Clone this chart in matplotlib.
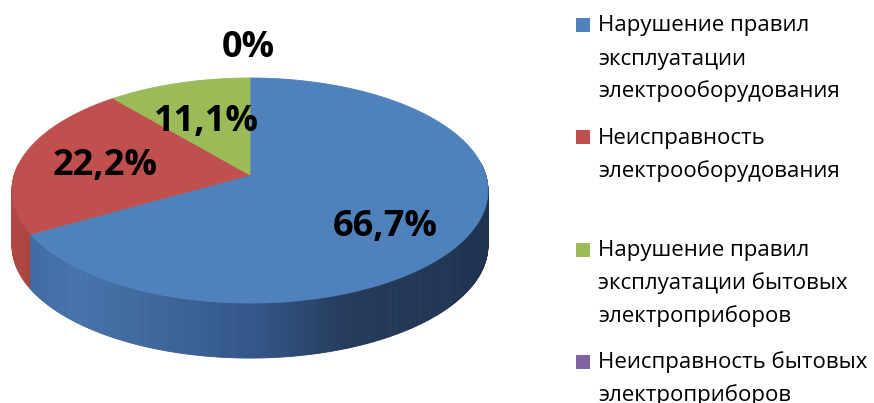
import numpy as np
import matplotlib
matplotlib.use("Agg")
import matplotlib.pyplot as plt
from matplotlib.patches import Polygon, Rectangle
from matplotlib.colors import to_rgb

# ---- data ----
categories = [
    "Нарушение правил\nэксплуатации\nэлектрооборудования",
    "Неисправность\nэлектрооборудования",
    "Нарушение правил\nэксплуатации бытовых\nэлектроприборов",
    "Неисправность бытовых\nэлектроприборов",
]
values = [66.7, 22.2, 11.1, 0.0]
top_colors = ["#4F81BD", "#C0504D", "#9BBB59", "#8064A2"]

def fmt(v):
    return "0%" if v == 0 else f"{v:.1f}".replace(".", ",") + "%"

# ---- geometry (pixel space) ----
W, H = 874, 403
fig = plt.figure(figsize=(W / 100, H / 100), dpi=100)
ax = fig.add_axes([0, 0, 1, 1])
ax.set_xlim(0, W)
ax.set_ylim(H, 0)
ax.axis("off")

cx, cy = 250.0, 175.0
k = 0.138
A, B = 235.7, 110.4
depth = 55.0

def proj(theta):
    # theta: clockwise angle from 12 o'clock, degrees
    t = np.radians(theta)
    x, y = np.sin(t), np.cos(t)
    s = 1 + k * y
    return cx + A * x / s, cy - B * y / s

def side_color(i, X):
    if i == 0:
        xs = [0, 30, 80, 250, 350, 500]
        cols = ["#3F6CA3", "#3F6CA3", "#4673AA", "#34578A", "#243B5A", "#1F334F"]
    elif i == 1:
        xs = [0, 15, 40, 500]
        cols = ["#B34A46", "#B04844", "#A5433F", "#A5433F"]
    elif i == 2:
        xs = [0, 500]
        cols = ["#7E9A48", "#7E9A48"]
    else:
        xs = [0, 500]
        cols = ["#66508A", "#66508A"]
    rgb = np.array([to_rgb(c) for c in cols])
    return tuple(np.interp(X, xs, rgb[:, j]) for j in range(3))

total = sum(values)
starts = np.cumsum([0] + values[:-1]) / total * 360
ends = np.cumsum(values) / total * 360

# side quads
quads = []
for i, (a0, a1) in enumerate(zip(starts, ends)):
    if a1 - a0 <= 0:
        continue
    n = max(2, int((a1 - a0) / 0.5))
    th = np.linspace(a0, a1, n + 1)
    for j in range(n):
        ta, tb = th[j], th[j + 1]
        tm = 0.5 * (ta + tb)
        if np.cos(np.radians(tm)) > 0.1:
            continue
        xa, ya = proj(ta)
        xb, yb = proj(tb)
        quads.append((np.cos(np.radians(tm)), i,
                      [(xa, ya), (xb, yb), (xb, yb + depth), (xa, ya + depth)]))
quads.sort(key=lambda q: -q[0])
for _, i, pts in quads:
    X = np.mean([p[0] for p in pts])
    c = side_color(i, X)
    ax.add_patch(Polygon(pts, closed=True, facecolor=c, edgecolor=c, lw=0.6))

# top faces
for i, (a0, a1) in enumerate(zip(starts, ends)):
    if a1 - a0 <= 0:
        continue
    th = np.linspace(a0, a1, 200)
    pts = [(cx, cy)] + [proj(t) for t in th]
    ax.add_patch(Polygon(pts, closed=True, facecolor=top_colors[i],
                         edgecolor=top_colors[i], lw=0.6))

# data labels
label_pos = [(385, 227), (105, 166), (206, 122), (248, 48)]
for v, (lx, ly) in zip(values, label_pos):
    ax.text(lx, ly, fmt(v), ha="center", va="center", fontsize=26,
            fontweight="bold", family="Open Sans", color="black")

# legend
sq_x, sq_size = 576, 14
first_base = 31.5
slot = 112.3
line_h = 33
for i, lab in enumerate(categories):
    base = first_base + slot * i
    ax.add_patch(Rectangle((sq_x, base - 13.5), sq_size, sq_size,
                           facecolor=top_colors[i], edgecolor="none"))
    for j, line in enumerate(lab.split("\n")):
        ax.text(598, base + line_h * j, line, ha="left", va="baseline",
                fontsize=16, family="Open Sans", color="black")

fig.savefig("out.png", dpi=100)
